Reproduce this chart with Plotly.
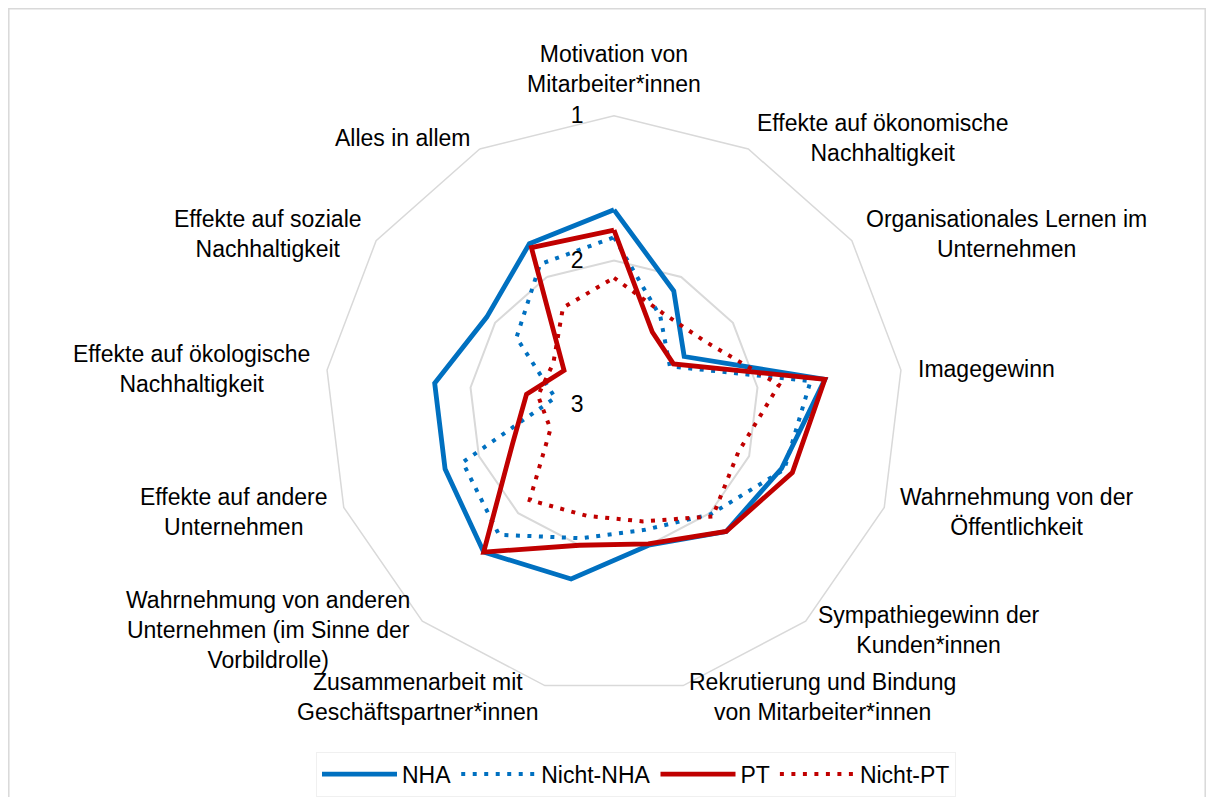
import math
import plotly.graph_objects as go

categories = [
    "Motivation von<br>Mitarbeiter*innen",
    "Effekte auf ökonomische<br>Nachhaltigkeit",
    "Organisationales Lernen im<br>Unternehmen",
    "Imagegewinn",
    "Wahrnehmung von der<br>Öffentlichkeit",
    "Sympathiegewinn der<br>Kunden*innen",
    "Rekrutierung und Bindung<br>von Mitarbeiter*innen",
    "Zusammenarbeit mit<br>Geschäftspartner*innen",
    "Wahrnehmung von anderen<br>Unternehmen (im Sinne der<br>Vorbildrolle)",
    "Effekte auf andere<br>Unternehmen",
    "Effekte auf ökologische<br>Nachhaltigkeit",
    "Effekte auf soziale<br>Nachhaltigkeit",
    "Alles in allem",
]

nha = [1.65, 2.11, 2.41, 1.53, 1.76, 1.83, 2.00, 1.76, 1.64, 1.75, 1.75, 1.93, 1.74]
nicht_nha = [1.84, 2.31, 2.53, 1.63, 1.74, 1.99, 2.11, 2.05, 1.80, 1.88, 2.59, 2.18, 1.90]
pt = [1.79, 2.43, 2.50, 1.53, 1.68, 1.83, 2.01, 2.00, 1.64, 2.25, 2.39, 2.58, 1.77]
nicht_pt = [2.12, 2.28, 2.23, 1.85, 2.08, 1.97, 2.17, 2.21, 2.12, 2.53, 2.47, 2.49, 2.24]

radial_ticks = [1, 2, 3]

series = [
    ("NHA", nha, "#0070C0", "solid", 4.8),
    ("Nicht-NHA", nicht_nha, "#0070C0", "4px,7.5px", 4),
    ("PT", pt, "#C00000", "solid", 4.8),
    ("Nicht-PT", nicht_pt, "#C00000", "4px,7.5px", 4),
]

fig = go.Figure()
for name, vals, color, dash, width in series:
    fig.add_trace(go.Scatterpolar(
        r=vals + vals[:1],
        theta=categories + categories[:1],
        mode="lines",
        name=name,
        line=dict(color=color, width=width, dash=dash),
    ))

# page body has an 8px margin; figure sized so the page is exactly 1214x805
W, H = 1198, 789
cx, cy, R = 606, 401, 292
font_family = "Liberation Sans, Arial, sans-serif"
FS = 23

# category labels placed just outside each polygon vertex, centred text
annotations = []
n = len(categories)
for k, label in enumerate(categories):
    ang = math.radians(k * 360 / n)
    s, c = math.sin(ang), math.cos(ang)
    if abs(s) < 0.05:
        pad = 17
        xa, ya = "center", "bottom"
    else:
        pad = 12
        xa = "left" if s > 0 else "right"
        ya = "middle"
    px = cx + (R + pad) * s
    py = cy - (R + pad) * c
    annotations.append(dict(
        text=label, x=px / W, y=1 - py / H, xref="paper", yref="paper",
        xanchor=xa, yanchor=ya, align="center", showarrow=False,
        font=dict(size=FS, color="#000000", family=font_family),
    ))

fig.update_layout(
    width=W, height=H,
    margin=dict(l=0, r=0, t=0, b=0),
    paper_bgcolor="white",
    font=dict(family=font_family, size=FS, color="#000000"),
    polar=dict(
        domain=dict(x=[(cx - R) / W, (cx + R) / W],
                    y=[(H - cy - R) / H, (H - cy + R) / H]),
        bgcolor="white",
        gridshape="linear",
        angularaxis=dict(
            rotation=90, direction="clockwise",
            showgrid=False, showline=True, linecolor="#d9d9d9", linewidth=1.5,
            ticks="", showticklabels=False,
        ),
        radialaxis=dict(
            range=[3, 1], angle=90, tickangle=90,
            tickvals=radial_ticks, ticktext=[str(t) for t in radial_ticks],
            showline=False, showgrid=True, gridcolor="#d9d9d9", gridwidth=1.5,
            ticks="outside", ticklen=22, tickcolor="rgba(0,0,0,0)",
            side="counterclockwise",
            tickfont=dict(size=FS, color="#000000"),
        ),
    ),
    legend=dict(
        orientation="h", x=628 / W, xanchor="center", y=(H - 774) / H, yanchor="middle",
        font=dict(size=FS, color="#000000"),
        bordercolor="#f0f0f0", borderwidth=1, bgcolor="white",
        itemwidth=75,
    ),
    annotations=annotations,
    shapes=[dict(type="rect", xref="paper", yref="paper",
                 x0=0.8 / W, x1=1 - 0.8 / W, y0=-0.02, y1=1 - 0.8 / H,
                 line=dict(color="#d9d9d9", width=1.5), layer="below")],
)

fig.write_html("out.html")
